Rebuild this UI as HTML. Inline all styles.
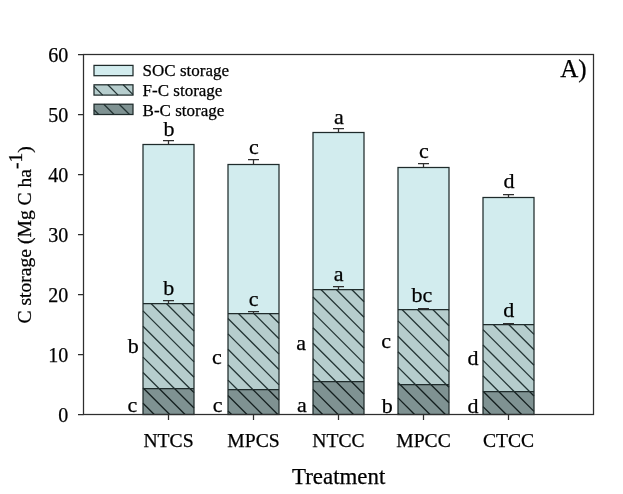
<!DOCTYPE html>
<html lang="en"><head><meta charset="utf-8"><title>C storage by treatment</title>
<style>
html,body{margin:0;padding:0;background:#fff;}
body{width:623px;height:494px;overflow:hidden;}
svg{display:block;}
text{font-family:"Liberation Serif","Times New Roman",serif;fill:#000;stroke:#000;stroke-width:0.25px;}
</style></head><body>
<svg width="623" height="494" viewBox="0 0 623 494">
<rect x="0" y="0" width="623" height="494" fill="#fff"/>

<rect x="143.0" y="144.5" width="51" height="159.0" fill="#d2ecee"/>
<rect x="143.0" y="303.5" width="51" height="85.0" fill="#b6cdcd"/>
<rect x="143.0" y="388.5" width="51" height="26.0" fill="#7f9292"/>
<path d="M143.00 387.90L143.60 388.50M143.00 372.50L159.00 388.50M143.00 357.10L174.40 388.50M143.00 341.70L189.80 388.50M143.00 326.30L194.00 377.30M143.00 310.90L194.00 361.90M151.00 303.50L194.00 346.50M166.40 303.50L194.00 331.10M181.80 303.50L194.00 315.70" stroke="#243535" stroke-width="1.3" fill="none"/>
<path d="M143.00 403.20L154.30 414.50M143.70 388.50L169.70 414.50M159.10 388.50L185.10 414.50M174.50 388.50L194.00 408.00M189.90 388.50L194.00 392.60" stroke="#141f1f" stroke-width="1.3" fill="none"/>
<rect x="143.0" y="144.5" width="51" height="270.0" fill="none" stroke="#1f2b2b" stroke-width="1.25"/>
<path d="M143.0 303.5H194.0M143.0 388.5H194.0" stroke="#1f2b2b" stroke-width="1.25" fill="none"/>
<path d="M168.5 144.5V140.5M163.0 140.5H174.0" stroke="#2e2e2e" stroke-width="1.25" fill="none"/>
<path d="M168.5 303.5V300.5M163.0 300.5H174.0" stroke="#2e2e2e" stroke-width="1.25" fill="none"/>
<rect x="228.0" y="164.5" width="51" height="149.0" fill="#d2ecee"/>
<rect x="228.0" y="313.5" width="51" height="76.0" fill="#b6cdcd"/>
<rect x="228.0" y="389.5" width="51" height="25.0" fill="#7f9292"/>
<path d="M228.00 380.10L237.40 389.50M228.00 364.70L252.80 389.50M228.00 349.30L268.20 389.50M228.00 333.90L279.00 384.90M228.00 318.50L279.00 369.50M238.40 313.50L279.00 354.10M253.80 313.50L279.00 338.70M269.20 313.50L279.00 323.30" stroke="#243535" stroke-width="1.3" fill="none"/>
<path d="M228.00 410.90L231.60 414.50M228.00 395.50L247.00 414.50M237.40 389.50L262.40 414.50M252.80 389.50L277.80 414.50M268.20 389.50L279.00 400.30" stroke="#141f1f" stroke-width="1.3" fill="none"/>
<rect x="228.0" y="164.5" width="51" height="250.0" fill="none" stroke="#1f2b2b" stroke-width="1.25"/>
<path d="M228.0 313.5H279.0M228.0 389.5H279.0" stroke="#1f2b2b" stroke-width="1.25" fill="none"/>
<path d="M253.5 164.5V159.5M248.0 159.5H259.0" stroke="#2e2e2e" stroke-width="1.25" fill="none"/>
<path d="M253.5 313.5V311.5M248.0 311.5H259.0" stroke="#2e2e2e" stroke-width="1.25" fill="none"/>
<rect x="313.0" y="132.5" width="51" height="157.0" fill="#d2ecee"/>
<rect x="313.0" y="289.5" width="51" height="92.0" fill="#b6cdcd"/>
<rect x="313.0" y="381.5" width="51" height="33.0" fill="#7f9292"/>
<path d="M313.00 374.00L320.50 381.50M313.00 358.60L335.90 381.50M313.00 343.20L351.30 381.50M313.00 327.80L364.00 378.80M313.00 312.40L364.00 363.40M313.00 297.00L364.00 348.00M320.90 289.50L364.00 332.60M336.30 289.50L364.00 317.20M351.70 289.50L364.00 301.80" stroke="#243535" stroke-width="1.3" fill="none"/>
<path d="M313.00 404.80L322.70 414.50M313.00 389.40L338.10 414.50M320.50 381.50L353.50 414.50M335.90 381.50L364.00 409.60M351.30 381.50L364.00 394.20" stroke="#141f1f" stroke-width="1.3" fill="none"/>
<rect x="313.0" y="132.5" width="51" height="282.0" fill="none" stroke="#1f2b2b" stroke-width="1.25"/>
<path d="M313.0 289.5H364.0M313.0 381.5H364.0" stroke="#1f2b2b" stroke-width="1.25" fill="none"/>
<path d="M338.5 132.5V128.5M333.0 128.5H344.0" stroke="#2e2e2e" stroke-width="1.25" fill="none"/>
<path d="M338.5 289.5V286.5M333.0 286.5H344.0" stroke="#2e2e2e" stroke-width="1.25" fill="none"/>
<rect x="398.0" y="167.5" width="51" height="142.0" fill="#d2ecee"/>
<rect x="398.0" y="309.5" width="51" height="75.0" fill="#b6cdcd"/>
<rect x="398.0" y="384.5" width="51" height="30.0" fill="#7f9292"/>
<path d="M398.00 382.50L400.00 384.50M398.00 367.10L415.40 384.50M398.00 351.70L430.80 384.50M398.00 336.30L446.20 384.50M398.00 320.90L449.00 371.90M402.00 309.50L449.00 356.50M417.40 309.50L449.00 341.10M432.80 309.50L449.00 325.70M448.20 309.50L449.00 310.30" stroke="#243535" stroke-width="1.3" fill="none"/>
<path d="M398.00 413.30L399.20 414.50M398.00 397.90L414.60 414.50M400.00 384.50L430.00 414.50M415.40 384.50L445.40 414.50M430.80 384.50L449.00 402.70M446.20 384.50L449.00 387.30" stroke="#141f1f" stroke-width="1.3" fill="none"/>
<rect x="398.0" y="167.5" width="51" height="247.0" fill="none" stroke="#1f2b2b" stroke-width="1.25"/>
<path d="M398.0 309.5H449.0M398.0 384.5H449.0" stroke="#1f2b2b" stroke-width="1.25" fill="none"/>
<path d="M423.5 167.5V163.5M418.0 163.5H429.0" stroke="#2e2e2e" stroke-width="1.25" fill="none"/>
<path d="M423.5 309.5V308.5M418.0 308.5H429.0" stroke="#2e2e2e" stroke-width="1.25" fill="none"/>
<rect x="483.0" y="197.5" width="51" height="127.0" fill="#d2ecee"/>
<rect x="483.0" y="324.5" width="51" height="67.0" fill="#b6cdcd"/>
<rect x="483.0" y="391.5" width="51" height="23.0" fill="#7f9292"/>
<path d="M483.00 391.20L483.30 391.50M483.00 375.80L498.70 391.50M483.00 360.40L514.10 391.50M483.00 345.00L529.50 391.50M483.00 329.60L534.00 380.60M493.30 324.50L534.00 365.20M508.70 324.50L534.00 349.80M524.10 324.50L534.00 334.40" stroke="#243535" stroke-width="1.3" fill="none"/>
<path d="M483.00 406.60L490.90 414.50M483.30 391.50L506.30 414.50M498.70 391.50L521.70 414.50M514.10 391.50L534.00 411.40M529.50 391.50L534.00 396.00" stroke="#141f1f" stroke-width="1.3" fill="none"/>
<rect x="483.0" y="197.5" width="51" height="217.0" fill="none" stroke="#1f2b2b" stroke-width="1.25"/>
<path d="M483.0 324.5H534.0M483.0 391.5H534.0" stroke="#1f2b2b" stroke-width="1.25" fill="none"/>
<path d="M508.5 197.5V194.5M503.0 194.5H514.0" stroke="#2e2e2e" stroke-width="1.25" fill="none"/>
<path d="M508.5 324.5V323.5M503.0 323.5H514.0" stroke="#2e2e2e" stroke-width="1.25" fill="none"/>
<rect x="83.5" y="54.5" width="510.0" height="360.0" fill="none" stroke="#2e2e2e" stroke-width="1.25"/>
<path d="M78.0 414.5H83.5M78.0 354.5H83.5M78.0 294.5H83.5M78.0 234.5H83.5M78.0 174.5H83.5M78.0 114.5H83.5M78.0 54.5H83.5M168.5 414.5V420.0M253.5 414.5V420.0M338.5 414.5V420.0M423.5 414.5V420.0M508.5 414.5V420.0" stroke="#2e2e2e" stroke-width="1.25" fill="none"/>
<text x="68.3" y="421.8" font-size="20" text-anchor="end">0</text>
<text x="68.3" y="361.8" font-size="20" text-anchor="end">10</text>
<text x="68.3" y="301.8" font-size="20" text-anchor="end">20</text>
<text x="68.3" y="241.8" font-size="20" text-anchor="end">30</text>
<text x="68.3" y="181.8" font-size="20" text-anchor="end">40</text>
<text x="68.3" y="121.8" font-size="20" text-anchor="end">50</text>
<text x="68.3" y="61.8" font-size="20" text-anchor="end">60</text>
<text x="168.5" y="447.1" font-size="19.6" text-anchor="middle">NTCS</text>
<text x="253.5" y="447.1" font-size="19.6" text-anchor="middle">MPCS</text>
<text x="338.5" y="447.1" font-size="19.6" text-anchor="middle">NTCC</text>
<text x="423.5" y="447.1" font-size="19.6" text-anchor="middle">MPCC</text>
<text x="508.5" y="447.1" font-size="19.6" text-anchor="middle">CTCC</text>
<text x="338.7" y="484.2" font-size="22.9" text-anchor="middle">Treatment</text>
<text transform="translate(30.5 234.8) rotate(-90)" font-size="19.6" text-anchor="middle">C storage (Mg C ha<tspan dy="-9">-1</tspan><tspan dy="9">)</tspan></text>
<text x="560.3" y="77.2" font-size="25">A)</text>
<rect x="94" y="65.4" width="39" height="10.3" fill="#d2ecee"/>
<rect x="94" y="65.4" width="39" height="10.3" fill="none" stroke="#1f2b2b" stroke-width="1.25"/>
<text x="142.6" y="76.4" font-size="17">SOC storage</text>
<rect x="94" y="84.8" width="39" height="10.3" fill="#b6cdcd"/>
<path d="M94.00 86.40L102.70 95.10M107.80 84.80L118.10 95.10M123.20 84.80L133.00 94.60" stroke="#243535" stroke-width="1.3" fill="none"/>
<rect x="94" y="84.8" width="39" height="10.3" fill="none" stroke="#1f2b2b" stroke-width="1.25"/>
<text x="142.6" y="96.0" font-size="17">F-C storage</text>
<rect x="94" y="104.2" width="39" height="10.3" fill="#7f9292"/>
<path d="M94.00 109.80L98.70 114.50M103.80 104.20L114.10 114.50M119.20 104.20L129.50 114.50" stroke="#243535" stroke-width="1.3" fill="none"/>
<rect x="94" y="104.2" width="39" height="10.3" fill="none" stroke="#1f2b2b" stroke-width="1.25"/>
<text x="142.6" y="115.6" font-size="17">B-C storage</text>
<text x="169.0" y="135.5" font-size="22" text-anchor="middle">b</text>
<text x="254.0" y="153.8" font-size="22" text-anchor="middle">c</text>
<text x="339.0" y="123.7" font-size="22" text-anchor="middle">a</text>
<text x="424.0" y="157.7" font-size="22" text-anchor="middle">c</text>
<text x="509.0" y="188.1" font-size="22" text-anchor="middle">d</text>
<text x="168.7" y="295.3" font-size="22" text-anchor="middle">b</text>
<text x="253.7" y="305.6" font-size="22" text-anchor="middle">c</text>
<text x="338.7" y="281.1" font-size="22" text-anchor="middle">a</text>
<text x="422.0" y="301.8" font-size="22" text-anchor="middle">bc</text>
<text x="508.7" y="317.2" font-size="22" text-anchor="middle">d</text>
<text x="127.8" y="352.8" font-size="22">b</text>
<text x="212.1" y="363.5" font-size="22">c</text>
<text x="296.3" y="349.9" font-size="22">a</text>
<text x="381.3" y="348.3" font-size="22">c</text>
<text x="467.4" y="365.0" font-size="22">d</text>
<text x="127.6" y="412.0" font-size="22">c</text>
<text x="212.7" y="412.0" font-size="22">c</text>
<text x="296.9" y="412.0" font-size="22">a</text>
<text x="381.7" y="412.6" font-size="22">b</text>
<text x="467.4" y="412.6" font-size="22">d</text>
</svg>
</body></html>
